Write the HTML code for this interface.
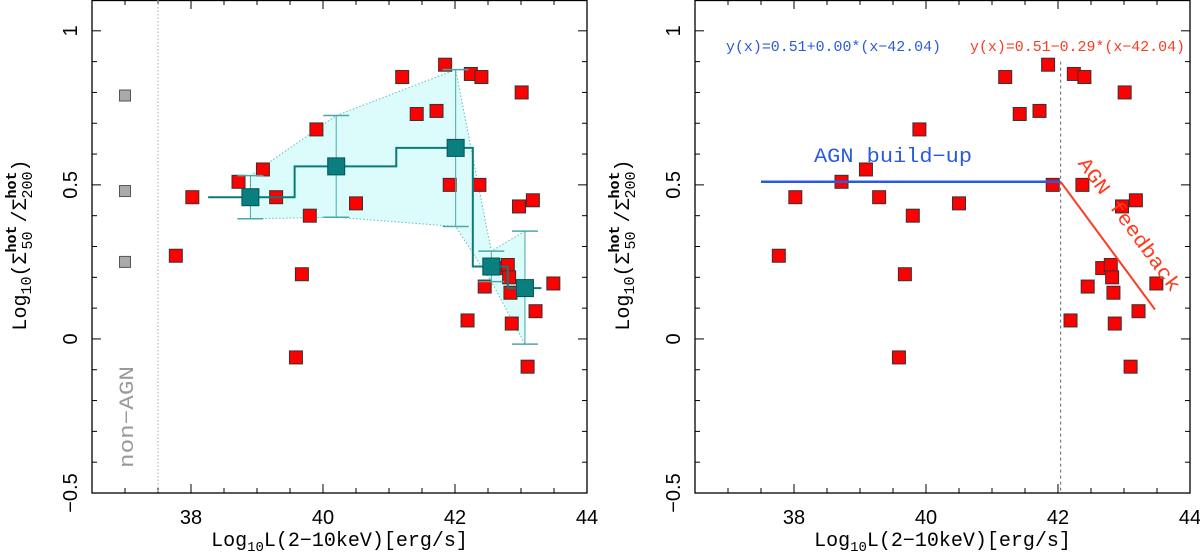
<!DOCTYPE html>
<html><head><meta charset="utf-8"><style>
html,body{margin:0;padding:0;background:#fff;}
svg{display:block;font-family:"Liberation Mono",monospace;}
</style></head><body>
<svg id="chart" width="1200" height="552" viewBox="0 0 1200 552" xmlns="http://www.w3.org/2000/svg"></svg>
<script>
// data
const agnX = [37.77,38.02,38.72,39.09,39.29,39.59,39.68,39.80,39.90,40.50,41.20,41.42,41.72,41.85,41.92,42.19,42.24,42.40,42.37,42.45,42.67,42.80,42.82,42.84,42.86,42.97,43.01,43.10,43.18,43.22,43.49];
const agnY = [0.27,0.46,0.51,0.55,0.46,-0.06,0.21,0.40,0.68,0.44,0.85,0.73,0.74,0.89,0.50,0.06,0.86,0.85,0.50,0.17,0.23,0.24,0.20,0.15,0.05,0.43,0.80,-0.09,0.45,0.09,0.18];
const nonAgnY = [0.79,0.48,0.25];
const nonAgnX = 37.0;
const binX = [38.90,40.20,42.01,42.55,43.06];
const binY = [0.46,0.56,0.62,0.235,0.165];
const binLo = [0.39,0.395,0.365,0.186,-0.017];
const binHi = [0.53,0.725,0.874,0.285,0.35];
const stepEdges = [38.26,39.57,41.11,42.27,42.80,43.31];
const fitBreak = 42.04, fitA = 0.51, slope1 = 0.00, slope2 = -0.29;
const fitStart = 37.5, fitEnd = 43.47;
const xTicks = [38,40,42,44];
const yTicks = [-0.5,0,0.5,1];
const yTickLabels = ["\u22120.5","0","0.5","1"];

const svg = document.getElementById('chart');
const NS = 'http://www.w3.org/2000/svg';
function mk(tag, attrs, parent){const e=document.createElementNS(NS,tag);for(const k in attrs)e.setAttribute(k,attrs[k]);(parent||svg).appendChild(e);return e;}

const X0=36.5,X1=44,Y0=-0.5,Y1=1.1,TOP=0,BOT=493;
const SANS='"Liberation Sans",sans-serif';
function panel(left,right,name){
  const g=mk('g',{});
  
  
  const sx=v=>left+(v-X0)/(X1-X0)*(right-left);
  const sy=v=>BOT-(v-Y0)/(Y1-Y0)*(BOT-TOP);
  const fr=mk('rect',{x:left,y:TOP+0.5,width:right-left,height:BOT-TOP-0.5,fill:'none',stroke:'#000','stroke-width':1.3},g);
  
  
  for(let i=0;i<=15;i++){const v=36.5+i*0.5;const x=sx(v);const L=(Math.abs(v-Math.round(v/2)*2)<1e-6)?9:5;
    mk('line',{x1:x,y1:BOT,x2:x,y2:BOT-L,stroke:'#000','stroke-width':1},g);
    mk('line',{x1:x,y1:TOP,x2:x,y2:TOP+L,stroke:'#000','stroke-width':1},g);}
  for(let i=0;i<=16;i++){const v=-0.5+i*0.1;const y=sy(v);const L=(Math.abs(v*2-Math.round(v*2))<1e-6)?9:5;
    mk('line',{x1:left,y1:y,x2:left+L,y2:y,stroke:'#000','stroke-width':1},g);
    mk('line',{x1:right,y1:y,x2:right-L,y2:y,stroke:'#000','stroke-width':1},g);}
  xTicks.forEach(v=>{const t=mk('text',{x:sx(v),y:524,'text-anchor':'middle','font-size':20,'font-family':SANS},g);t.textContent=v;
    });
  yTicks.forEach((v,i)=>{const x=left-22,y=sy(v);const t=mk('text',{x:x,y:y,'text-anchor':'middle','font-size':20,'font-family':SANS,transform:`rotate(-90 ${x} ${y})`,dy:7},g);t.textContent=yTickLabels[i];
    });
  const xl=mk('text',{x:(left+right)/2,y:546,'text-anchor':'middle','font-size':20},g);
  xl.innerHTML='Log<tspan font-size="14" dy="5">10</tspan><tspan dy="-5">L(2\u221210keV)[erg/s]</tspan>';
  
  const yx=left-73,yy=245;
  const yl=mk('text',{x:yx,y:yy,'text-anchor':'middle','font-size':20,transform:`rotate(-90 ${yx} ${yy})`,dy:7},g);
  yl.innerHTML='Log<tspan font-size="15" dy="5">10</tspan><tspan dy="-5">(\u03A3</tspan><tspan font-size="15" font-weight="bold" dy="-10">hot</tspan><tspan font-size="15" dx="-24" dy="16">50</tspan><tspan dx="9" dy="-6">/\u03A3</tspan><tspan font-size="15" font-weight="bold" dy="-10">hot</tspan><tspan font-size="15" dx="-27" dy="16">200</tspan><tspan dy="-6">)</tspan>';
  
  return {g,sx,sy};
}
function sq(g,x,y,s,fill,stroke,name){const r=mk('rect',{x:x-s/2,y:y-s/2,width:s,height:s,fill:fill,stroke:stroke,'stroke-width':1},g);
  return r;}

// Left panel
const P=panel(92,587,'left-panel');
const poly=[];binX.forEach((x,i)=>poly.push(P.sx(x)+','+P.sy(binHi[i])));
for(let i=binX.length-1;i>=0;i--)poly.push(P.sx(binX[i])+','+P.sy(binLo[i]));
const band=mk('polygon',{points:poly.join(' '),fill:'#dcfcfc',stroke:'#66bbbb','stroke-width':1,'stroke-dasharray':'1.5 2'},P.g);

const nl=mk('line',{x1:P.sx(37.5),y1:TOP,x2:P.sx(37.5),y2:BOT,stroke:'#aaa','stroke-width':1,'stroke-dasharray':'1.5 2'},P.g);

const nt=mk('text',{x:0,y:0,'font-size':20,fill:'#999',transform:'translate(133,468) rotate(-90)',textLength:102,lengthAdjust:'spacingAndGlyphs'},P.g);

nt.textContent='non\u2212AGN';
nonAgnY.forEach(v=>sq(P.g,P.sx(nonAgnX),P.sy(v),11,'#aaa','#555','non-agn-point'));
agnX.forEach((x,i)=>sq(P.g,P.sx(x),P.sy(agnY[i]),13,'#ff0000','#333','agn-point'));
binX.forEach((x,i)=>{const e=mk('g',{},P.g);
  const X=P.sx(x);mk('line',{x1:X,y1:P.sy(binLo[i]),x2:X,y2:P.sy(binHi[i]),stroke:'#4aa8a8','stroke-width':1},e);
  [binLo[i],binHi[i]].forEach(v=>mk('line',{x1:X-13,y1:P.sy(v),x2:X+13,y2:P.sy(v),stroke:'#4aa8a8','stroke-width':1.5},e));});
let d='M'+P.sx(stepEdges[0])+' '+P.sy(binY[0]);
for(let i=0;i<binY.length;i++){d+=' L'+P.sx(stepEdges[i+1])+' '+P.sy(binY[i]);if(i+1<binY.length)d+=' L'+P.sx(stepEdges[i+1])+' '+P.sy(binY[i+1]);}
const st=mk('path',{d:d,fill:'none',stroke:'#0b7a7a','stroke-width':2},P.g);

binX.forEach((x,i)=>sq(P.g,P.sx(x),P.sy(binY[i]),17,'#0b7f80','#055','binned-mean'));

// Right panel
const Q=panel(695,1190,'right-panel');
const dl=mk('line',{x1:Q.sx(fitBreak),y1:Q.sy(0.9),x2:Q.sx(fitBreak),y2:BOT,stroke:'#666','stroke-width':1,'stroke-dasharray':'3 3'},Q.g);

agnX.forEach((x,i)=>sq(Q.g,Q.sx(x),Q.sy(agnY[i]),13,'#ff0000','#333','agn-point'));
const bl=mk('line',{x1:Q.sx(fitStart),y1:Q.sy(fitA+slope1*(fitStart-fitBreak)),x2:Q.sx(fitBreak),y2:Q.sy(fitA),stroke:'#2a5ae0','stroke-width':2.5},Q.g);

const rl=mk('line',{x1:Q.sx(fitBreak),y1:Q.sy(fitA),x2:Q.sx(fitEnd),y2:Q.sy(fitA+slope2*(fitEnd-fitBreak)),stroke:'#ff3b1f','stroke-width':2},Q.g);

const t1=mk('text',{x:726,y:51,'font-size':15,fill:'#2a5ae0',textLength:215,lengthAdjust:'spacingAndGlyphs'},Q.g);t1.textContent='y(x)=0.51+0.00*(x\u221242.04)';

const t2=mk('text',{x:970,y:51,'font-size':15,fill:'#ff3b1f',textLength:215,lengthAdjust:'spacingAndGlyphs'},Q.g);t2.textContent='y(x)=0.51\u22120.29*(x\u221242.04)';

const t3=mk('text',{x:814,y:162,'font-size':20,fill:'#2a5ae0',textLength:158,lengthAdjust:'spacingAndGlyphs'},Q.g);t3.textContent='AGN build\u2212up';

const t4=mk('text',{x:0,y:0,'font-size':20,fill:'#ff3b1f','text-anchor':'middle',transform:'translate(1130,224) rotate(54)',dy:7,textLength:160,lengthAdjust:'spacingAndGlyphs'},Q.g);t4.textContent='AGN feedback';

</script>
</body></html>
